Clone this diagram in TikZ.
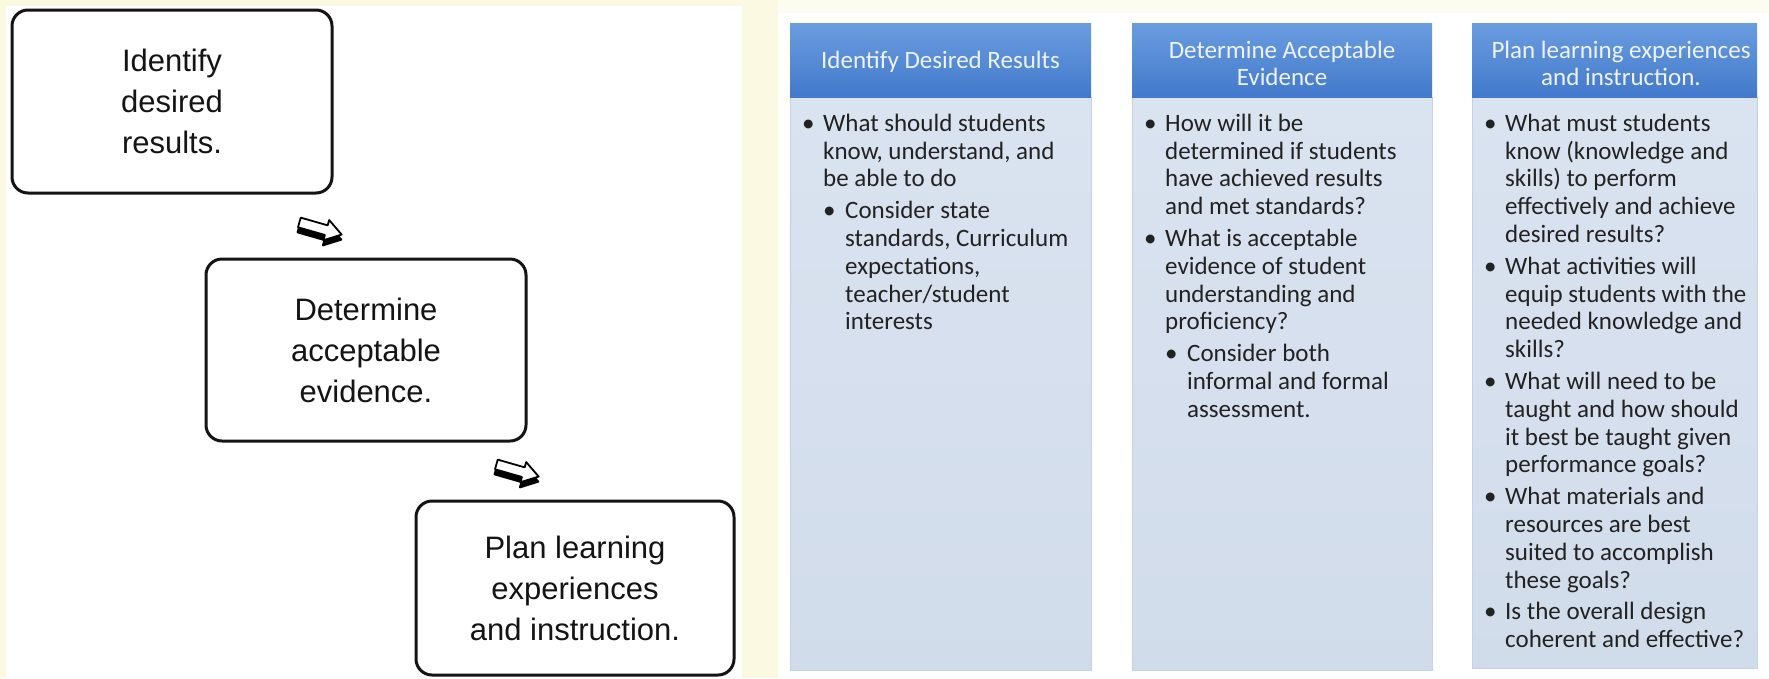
\documentclass[tikz,border=0pt]{standalone}
\usepackage{fontspec}
\setmainfont{Liberation Sans}
\newfontfamily\calfont{Carlito}
\usetikzlibrary{calc}
\definecolor{cream}{HTML}{FCF9E2}
\definecolor{creamlight}{HTML}{FDFCF0}
\definecolor{hdrtop}{HTML}{6A9DDF}
\definecolor{hdrbot}{HTML}{4379CC}
\definecolor{bodytop}{HTML}{DAE3F0}
\definecolor{bodybot}{HTML}{D1DCEB}
\definecolor{bodyline}{HTML}{C7D1E3}
\definecolor{txtc}{HTML}{222222}
\definecolor{hdrtxt}{HTML}{EEF3FB}
\definecolor{boxline}{HTML}{141414}
\newcommand\st{\rule{0pt}{20pt}}
\newcommand\bA{\makebox[33pt][l]{\hspace{12pt}\textbullet}}
\newcommand\iA{\makebox[33pt]{}}
\newcommand\bB{\makebox[55pt][l]{\hspace{33pt}\textbullet}}
\newcommand\iB{\makebox[55pt]{}}
\tikzset{
  stepbox/.style={draw=boxline, line width=3pt, rounded corners=16pt, fill=white,
    align=center, text=boxline, inner sep=0pt,
    font=\fontsize{31}{41}\selectfont},
  hdrbox/.style={top color=hdrtop, bottom color=hdrbot, inner sep=0pt, draw=none},
  bodybox/.style={top color=bodytop, bottom color=bodybot, draw=bodyline, line width=0.8pt, inner sep=0pt},
  hdrtext/.style={text=hdrtxt, align=center, inner sep=0pt,
    font=\calfont\fontsize{25}{27}\selectfont},
  bodytext/.style={text=txtc, align=left, inner sep=0pt, anchor=north west,
    font=\calfont\fontsize{25}{27.8}\selectfont},
  barrow/.pic={
    \begin{scope}[shift={(1,5)}]
      \filldraw[fill=black, draw=black, line width=2pt, line join=round]
        (-22,-5) -- (6,-5) -- (6,-10.5) -- (22,0) -- (6,10.5) -- (6,5) -- (-22,5) -- cycle;
    \end{scope}
    \filldraw[fill=white, draw=black, line width=1.8pt, line join=round]
      (-22,-5) -- (6,-5) -- (6,-10.5) -- (22,0) -- (6,10.5) -- (6,5) -- (-22,5) -- cycle;
  }
}
\begin{document}
\begin{tikzpicture}[x=1pt,y=-1pt]
\useasboundingbox (0,0) rectangle (1769,678);
% backgrounds
\fill[cream] (0,0) rectangle (1769,678);
\fill[white] (6,6) rectangle (742,678);
\fill[creamlight] (778,0) rectangle (1769,13);
\fill[white] (778,13) rectangle (1769,678);

% left flow boxes
\node[stepbox, minimum width=320, minimum height=183] (b1) at (172,101.5)
  {Identify\\desired\\results.};
\node[stepbox, minimum width=320, minimum height=182] (b2) at (366,350)
  {Determine\\acceptable\\evidence.};
\node[stepbox, minimum width=318, minimum height=174] (b3) at (575,588)
  {Plan learning\\experiences\\and instruction.};
\coordinate (a1) at ($(b1.south east)+(-13,34)$);
\coordinate (a2) at ($(b2.south east)+(-10,28)$);
\pic[rotate=-16] at (a1) {barrow};
\pic[rotate=-16] at (a2) {barrow};

% right columns
\path[bodybox] (790,97) rectangle (1091,670);
\path[bodybox] (1132,97) rectangle (1432,670);
\path[bodybox] (1472,97) rectangle (1757,668);
\path[hdrbox] (790,23) rectangle (1091,97);
\path[hdrbox] (1132,23) rectangle (1432,97);
\path[hdrbox] (1472,23) rectangle (1757,97);

\node[hdrtext] (h1) at (940.5,62) {Identify Desired Results};
\node[hdrtext] (h2) at (1282,63) {Determine Acceptable\\Evidence};
\node[hdrtext] (h3) at (1621,63) {Plan learning experiences\\and instruction.};

\node[bodytext] (t1) at (790,111) {\st\bA What should students\\
\iA know, understand, and\\
\iA be able to do\\[4pt]
\bB Consider state\\
\iB standards, Curriculum\\
\iB expectations,\\
\iB teacher/student\\
\iB interests};

\node[bodytext] (t2) at (1132,111) {\st\bA How will it be\\
\iA determined if students\\
\iA have achieved results\\
\iA and met standards?\\[4pt]
\bA What is acceptable\\
\iA evidence of student\\
\iA understanding and\\
\iA proficiency?\\[4pt]
\bB Consider both\\
\iB informal and formal\\
\iB assessment.};

\node[bodytext] (t3) at (1472,111) {\st\bA What must students\\
\iA know (knowledge and\\
\iA skills) to perform\\
\iA effectively and achieve\\
\iA desired results?\\[4pt]
\bA What activities will\\
\iA equip students with the\\
\iA needed knowledge and\\
\iA skills?\\[4pt]
\bA What will need to be\\
\iA taught and how should\\
\iA it best be taught given\\
\iA performance goals?\\[4pt]
\bA What materials and\\
\iA resources are best\\
\iA suited to accomplish\\
\iA these goals?\\[4pt]
\bA Is the overall design\\
\iA coherent and effective?};
\end{tikzpicture}
\end{document}
